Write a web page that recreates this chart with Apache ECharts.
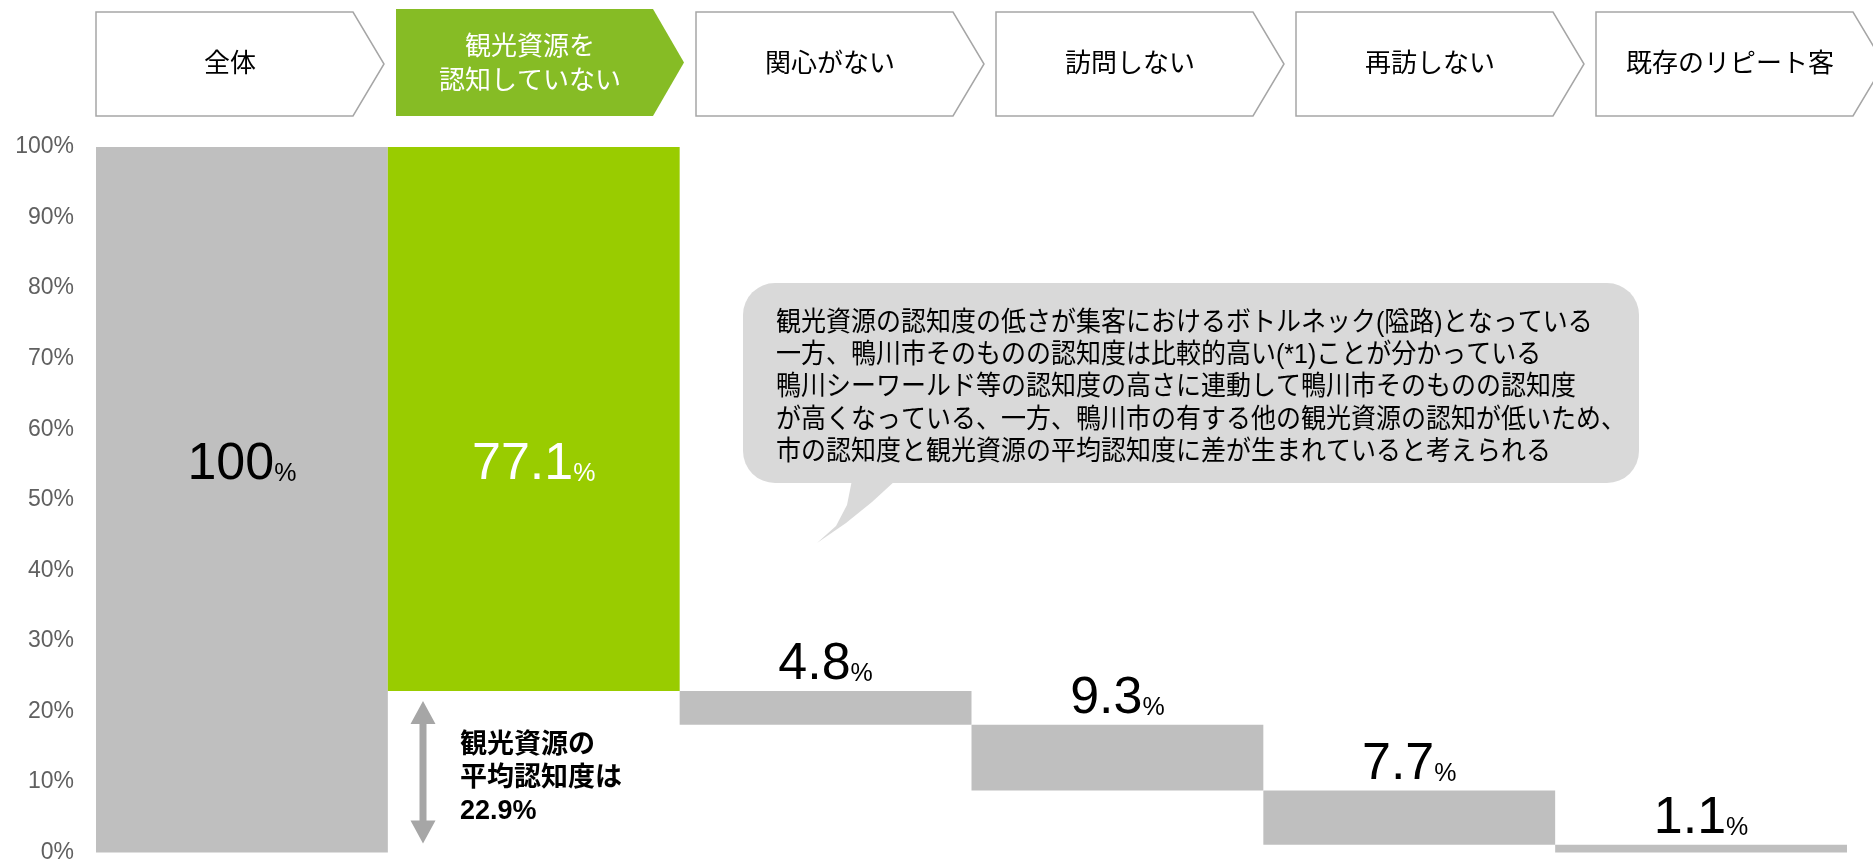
<!DOCTYPE html>
<html lang="ja">
<head>
<meta charset="utf-8">
<title>観光資源の認知度 ファネル</title>
<script src="https://cdn.jsdelivr.net/npm/echarts@6/dist/echarts.min.js"></script>
<style>
  html, body { margin: 0; padding: 0; background: #fff; }
  #chart { width: 1873px; height: 864px; }
</style>
</head>
<body>
<div id="chart"></div>
<script>
// Funnel stages, left to right
const categories = ['全体', '観光資源を\n認知していない', '関心がない', '訪問しない', '再訪しない', '既存のリピート客'];
// Height of each step (%)
const stepValues = [100, 77.1, 4.8, 9.3, 7.7, 1.1];
// Level each step starts from (%)
const stepBases = [0, 22.9, 18.1, 8.8, 1.1, 0];
// Which stage is highlighted
const highlightIndex = 1;
// Y axis ticks (%)
const yMin = 0, yMax = 100, yStep = 10;

const calloutLines = [
  '観光資源の認知度の低さが集客におけるボトルネック(隘路)となっている',
  '一方、鴨川市そのものの認知度は比較的高い(*1)ことが分かっている',
  '鴨川シーワールド等の認知度の高さに連動して鴨川市そのものの認知度',
  'が高くなっている、一方、鴨川市の有する他の観光資源の認知が低いため、',
  '市の認知度と観光資源の平均認知度に差が生まれていると考えられる'
];
const noteTitle = ['観光資源の', '平均認知度は'];

const FONT = "'Liberation Sans','Noto Sans CJK JP',sans-serif";
const GRAY = '#BFBFBF';
const GREEN = '#99CC00';
const HEAD_GREEN = '#86BC25';

const chart = echarts.init(document.getElementById('chart'), null, { renderer: 'canvas' });

// Chevron header row
function headerGraphics() {
  const els = [];
  const left0 = 96, pitch = 300, w = 288, depth = 31;
  categories.forEach((name, i) => {
    const l = left0 + i * pitch;
    const hot = i === highlightIndex;
    const t = hot ? 9 : 12, b = 116;
    els.push({
      type: 'polygon',
      silent: true,
      shape: { points: [[l, t], [l + w - depth, t], [l + w, (t + b) / 2], [l + w - depth, b], [l, b]] },
      style: hot ? { fill: HEAD_GREEN } : { fill: '#fff', stroke: '#A6A6A6', lineWidth: 1.5 }
    });
    els.push({
      type: 'text',
      silent: true,
      x: l + 134,
      y: 65,
      style: {
        text: name,
        font: "26px " + FONT,
        fill: hot ? '#fff' : '#000',
        textAlign: 'center',
        textVerticalAlign: 'middle',
        lineHeight: 34
      }
    });
  });
  return els;
}

// Speech bubble with commentary
function calloutGraphics() {
  return [
    {
      type: 'rect', silent: true,
      shape: { x: 743, y: 283, width: 896, height: 200, r: 32 },
      style: { fill: '#D9D9D9' }
    },
    {
      type: 'polygon', silent: true,
      shape: { points: [[852, 480], [847, 505], [836, 526], [817, 543], [846, 523], [872, 502], [896, 480]] },
      style: { fill: '#D9D9D9' }
    },
    {
      type: 'text', silent: true,
      x: 776, y: 307,
      scaleY: 1.1,
      originX: 0, originY: 0,
      style: {
        text: calloutLines.join('\n'),
        font: "25px " + FONT,
        fill: '#000',
        lineHeight: 29.4,
        textAlign: 'left',
        textVerticalAlign: 'top'
      }
    }
  ];
}

const option = {
  animation: false,
  backgroundColor: '#fff',
  grid: { left: 96, right: 26, top: 147, bottom: 10, containLabel: false },
  xAxis: {
    type: 'category',
    data: categories,
    show: false
  },
  yAxis: {
    type: 'value',
    min: yMin, max: yMax, interval: yStep,
    axisLine: { show: false },
    axisTick: { show: false },
    splitLine: { show: false },
    axisLabel: {
      formatter: '{value}%',
      color: '#606060',
      fontSize: 23,
      fontFamily: FONT,
      margin: 22
    }
  },
  series: [
    {
      name: 'base',
      type: 'bar',
      stack: 'step',
      silent: true,
      barCategoryGap: '0%',
      itemStyle: { color: 'transparent' },
      emphasis: { disabled: true },
      label: { show: false },
      data: stepBases
    },
    {
      name: 'step',
      type: 'bar',
      stack: 'step',
      silent: true,
      barCategoryGap: '0%',
      emphasis: { disabled: true },
      label: {
        show: true,
        position: 'top',
        distance: 0,
        color: '#000',
        textBorderWidth: 0,
        formatter: p => '{n|' + p.value + '}{p|%}',
        rich: {
          n: { fontSize: 52, fontFamily: FONT, verticalAlign: 'bottom' },
          p: { fontSize: 25, fontFamily: FONT, verticalAlign: 'bottom', padding: [0, 0, 4, 0] }
        }
      },
      data: stepValues.map((v, i) => {
        const item = { value: v, itemStyle: { color: i === highlightIndex ? GREEN : GRAY } };
        if (v > 50) {
          item.label = {
            position: ['50%', 344],
            align: 'center',
            verticalAlign: 'bottom',
            color: i === highlightIndex ? '#fff' : '#000',
            textBorderWidth: 0
          };
        }
        return item;
      })
    }
  ],
  graphic: { elements: headerGraphics().concat(calloutGraphics()) }
};

chart.setOption(option);

// Gap marker under the highlighted bar: double arrow + note
const gapTop = chart.convertToPixel({ yAxisIndex: 0 }, stepBases[highlightIndex]);
const gapBottom = chart.convertToPixel({ yAxisIndex: 0 }, yMin);
const ax = 423, shaft = 3.5, head = 12.5, headLen = 23;
const aTop = gapTop + 10, aBot = gapBottom - 9;
const noteText = noteTitle.join('\n') + '\n' + stepBases[highlightIndex].toFixed(1) + '%';

chart.setOption({
  graphic: {
    elements: headerGraphics().concat(calloutGraphics()).concat([
      {
        type: 'polygon', silent: true,
        shape: {
          points: [
            [ax, aTop], [ax + head, aTop + headLen], [ax + shaft, aTop + headLen],
            [ax + shaft, aBot - headLen], [ax + head, aBot - headLen], [ax, aBot],
            [ax - head, aBot - headLen], [ax - shaft, aBot - headLen],
            [ax - shaft, aTop + headLen], [ax - head, aTop + headLen]
          ]
        },
        style: { fill: '#A6A6A6' }
      },
      {
        type: 'text', silent: true,
        x: 460, y: (gapTop + gapBottom) / 2 + 7,
        style: {
          text: noteText,
          font: "bold 27px " + FONT,
          fill: '#000',
          lineHeight: 33,
          textAlign: 'left',
          textVerticalAlign: 'middle'
        }
      }
    ])
  }
}, { replaceMerge: ['graphic'] });
</script>
</body>
</html>
